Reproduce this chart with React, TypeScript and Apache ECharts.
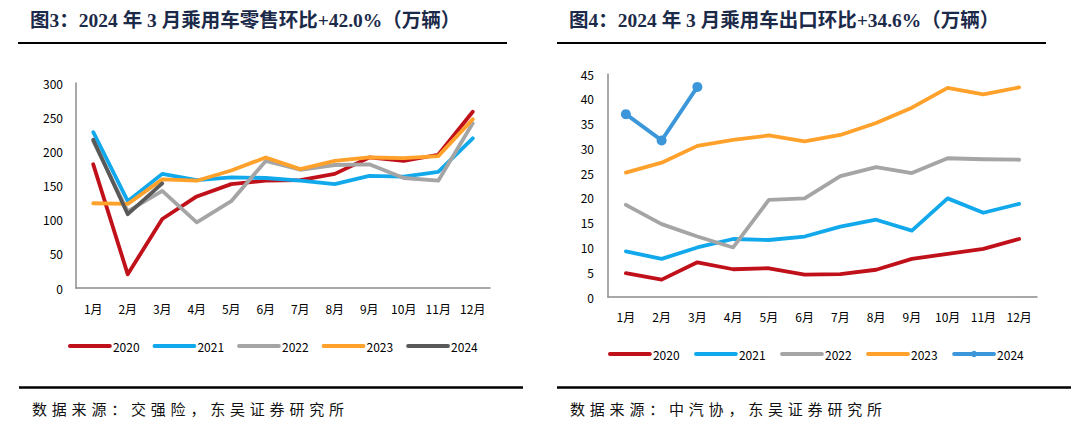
import React, { useEffect, useRef } from "react";
import * as echarts from "echarts";

const months = ["1月", "2月", "3月", "4月", "5月", "6月", "7月", "8月", "9月", "10月", "11月", "12月"];
const years = ["2020", "2021", "2022", "2023", "2024"];

const retail2020 = [181, 20, 101, 134, 152, 157, 158, 167, 191, 186, 195, 258];
const retail2021 = [228, 127, 167, 158, 162, 161, 157, 152, 164, 163, 170, 219];
const retail2022 = [215, 112, 142, 96, 127, 186, 173, 180, 181, 161, 157, 241];
const retail2023 = [124, 123, 159, 157, 172, 191, 174, 186, 191, 190, 193, 247];
const retail2024 = [217, 108, 153];

const export2020 = [4.8, 3.5, 7.0, 5.6, 5.8, 4.5, 4.6, 5.5, 7.7, 8.7, 9.7, 11.7];
const export2021 = [9.2, 7.7, 10.0, 11.7, 11.5, 12.2, 14.2, 15.6, 13.4, 19.9, 17.0, 18.8];
const export2022 = [18.6, 14.7, 12.2, 10.0, 19.6, 19.9, 24.4, 26.2, 25.0, 28.0, 27.8, 27.7];
const export2023 = [25.1, 27.1, 30.5, 31.7, 32.6, 31.4, 32.7, 35.1, 38.2, 42.2, 40.9, 42.3];
const export2024 = [36.9, 31.6, 42.4];

const title1 = "图3：2024 年 3 月乘用车零售环比+42.0%（万辆）";
const title2 = "图4：2024 年 3 月乘用车出口环比+34.6%（万辆）";
const source1 = "数据来源：交强险，东吴证券研究所";
const source2 = "数据来源：中汽协，东吴证券研究所";

const COLORS = ["#C0111B", "#12A9EC", "#A5A5A5", "#FFA12B"];
const SANS = "'Noto Sans CJK SC', 'Noto Sans', sans-serif";
const TITLE_FONT = "'Liberation Serif', 'Noto Sans CJK SC', serif";

function buildOption(cfg: any) {
  const series: any[] = cfg.data.map((d: number[], i: number) => {
    const last = i === 4;
    const color = last ? cfg.color2024 : COLORS[i];
    return {
      type: "line",
      name: years[i],
      data: d,
      symbol: last && cfg.markers ? "circle" : "none",
      symbolSize: 10,
      showSymbol: last && cfg.markers,
      lineStyle: { color, width: 3.8, cap: "round", join: "round" },
      itemStyle: { color },
      z: 2 + i,
    };
  });
  const legendData = years.map((y, i) => {
    const withMarker = i === 4 && cfg.markers;
    return withMarker ? { name: y } : { name: y, itemStyle: { opacity: 0 } };
  });
  return {
    animation: false,
    grid: cfg.grid,
    legend: {
      left: cfg.legendLeft,
      top: cfg.legendTop,
      itemWidth: 40,
      itemHeight: 8,
      itemGap: cfg.legendGap,
      padding: 0,
      lineStyle: { width: 3.8, cap: "round" },
      textStyle: { fontSize: 12, color: "#000", fontFamily: SANS, padding: [0, 0, 0, -2] },
      data: legendData,
    },
    xAxis: {
      type: "category",
      data: months,
      boundaryGap: true,
      axisLine: { show: true, lineStyle: { color: "#8C8C8C", width: 1.5 } },
      axisTick: { show: false },
      axisLabel: { color: "#000", fontSize: 12, fontFamily: SANS, margin: cfg.xMargin, interval: 0 },
    },
    yAxis: {
      type: "value",
      min: 0,
      max: cfg.max,
      interval: cfg.interval,
      axisLine: { show: true, lineStyle: { color: "#8C8C8C", width: 1.5 } },
      axisTick: { show: false },
      splitLine: { show: false },
      axisLabel: { color: "#000", fontSize: 12, fontFamily: SANS, margin: cfg.yMargin },
    },
    graphic: [
      {
        type: "text",
        left: cfg.titleX,
        top: 11,
        style: { text: cfg.title, fontSize: 19.5, fontWeight: "bold", fill: "#1C2A4A", fontFamily: TITLE_FONT },
      },
      {
        type: "line",
        shape: { x1: cfg.titleLine[0], y1: 43, x2: cfg.titleLine[1], y2: 43 },
        style: { stroke: "#000", lineWidth: 2 },
      },
      {
        type: "line",
        shape: { x1: cfg.footLine[0], y1: 387.5, x2: cfg.footLine[1], y2: 387.5 },
        style: { stroke: "#000", lineWidth: 2.5 },
      },
    ],
    series,
  };
}

function ChartPanel(props: any) {
  const ref = useRef<HTMLDivElement>(null);
  useEffect(() => {
    if (!ref.current) return;
    const chart = echarts.init(ref.current, undefined, { renderer: "svg" });
    chart.setOption(buildOption(props.cfg));
    return () => chart.dispose();
  }, []);
  return (
    <div style={{ position: "absolute", left: props.left, top: 0, width: props.width, height: 434 }}>
      <div ref={ref} style={{ position: "absolute", left: 0, top: 0, width: props.width, height: 434 }} />
      <div
        style={{
          position: "absolute",
          left: props.cfg.footX,
          top: 398,
          fontSize: 15,
          lineHeight: "22px",
          letterSpacing: "4.8px",
          color: "#111",
          fontFamily: SANS,
          whiteSpace: "nowrap",
        }}
      >
        {props.cfg.source}
      </div>
    </div>
  );
}

const leftCfg = {
  title: title1,
  source: source1,
  data: [retail2020, retail2021, retail2022, retail2023, retail2024],
  color2024: "#595959",
  markers: false,
  grid: { left: 76, right: 55, top: 83, bottom: 146 },
  max: 300,
  interval: 50,
  xMargin: 14,
  yMargin: 13,
  legendLeft: 68,
  legendTop: 340,
  legendGap: 13,
  titleX: 30,
  titleLine: [18, 507],
  footLine: [19, 523],
  footX: 32,
};

const rightCfg = {
  title: title2,
  source: source2,
  data: [export2020, export2021, export2022, export2023, export2024],
  color2024: "#3C97DA",
  markers: true,
  grid: { left: 63, right: 52, top: 74, bottom: 137 },
  max: 45,
  interval: 5,
  xMargin: 13,
  yMargin: 14,
  legendLeft: 63,
  legendTop: 348,
  legendGap: 14.5,
  titleX: 24,
  titleLine: [12, 501],
  footLine: [12, 526],
  footX: 25,
};

export default function App() {
  return (
    <div style={{ position: "absolute", left: 0, top: 0, width: 1089, height: 434, background: "#fff" }}>
      <ChartPanel left={0} width={545} cfg={leftCfg} />
      <ChartPanel left={545} width={544} cfg={rightCfg} />
    </div>
  );
}
